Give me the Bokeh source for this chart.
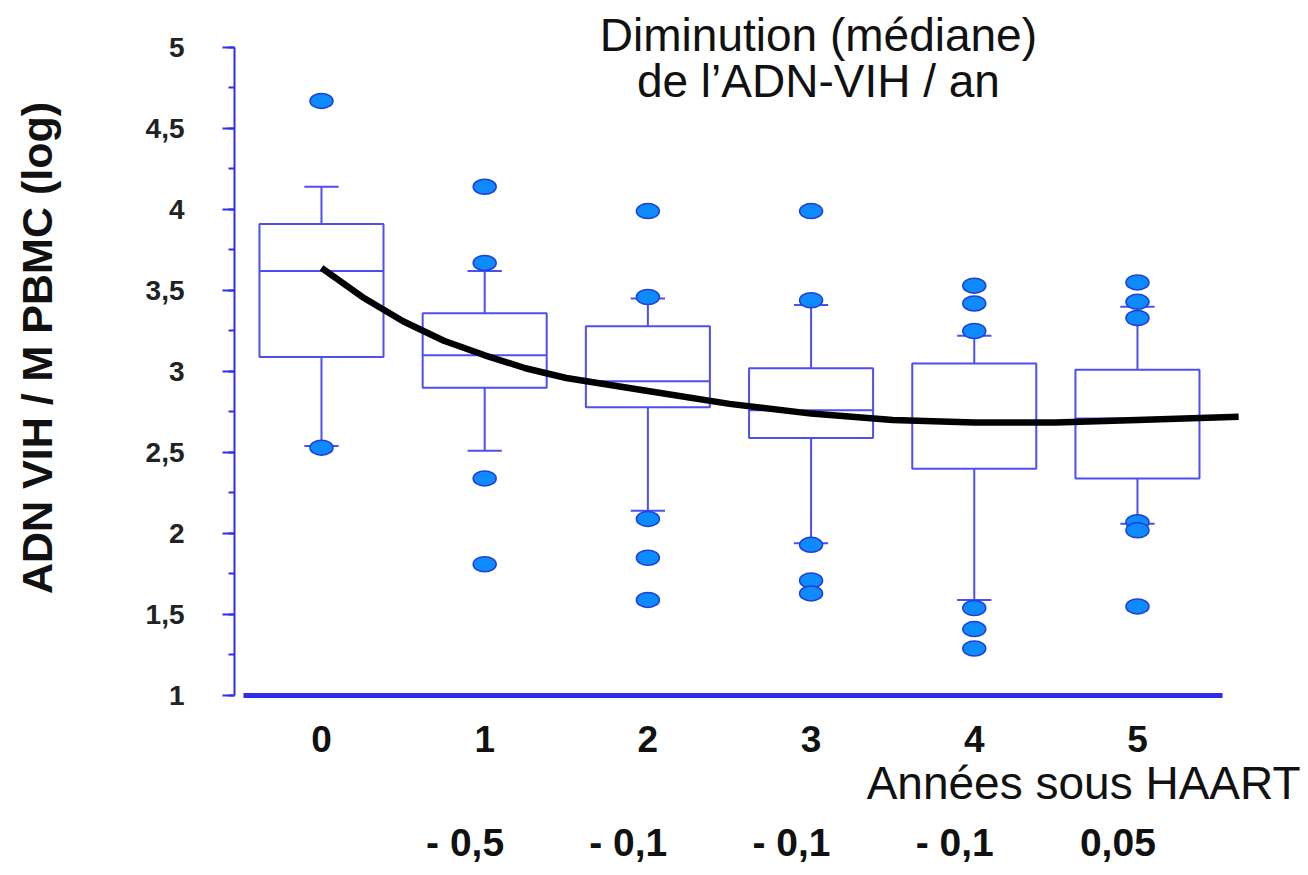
from bokeh.plotting import figure
from bokeh.models import (Range1d, LinearAxis, FixedTicker, SingleIntervalTicker,
                          CustomJSTickFormatter, Label, Title)
from bokeh.embed import file_html
from bokeh.resources import INLINE

# ---------------- data ----------------
years = [0, 1, 2, 3, 4, 5]
q3 = [3.91, 3.36, 3.28, 3.02, 3.05, 3.01]
median = [3.62, 3.10, 2.94, 2.76, 2.69, 2.71]
q1 = [3.09, 2.90, 2.78, 2.59, 2.40, 2.34]
upper_whisker = [4.14, 3.62, 3.45, 3.41, 3.22, 3.40]
lower_whisker = [2.54, 2.51, 2.14, 1.94, 1.59, 2.06]

outlier_year = [0, 0,
                1, 1, 1, 1,
                2, 2, 2, 2, 2,
                3, 3, 3, 3, 3,
                4, 4, 4, 4, 4, 4,
                5, 5, 5, 5, 5, 5]
outlier_value = [4.67, 2.53,
                 4.14, 3.67, 2.34, 1.81,
                 3.99, 3.46, 2.09, 1.85, 1.59,
                 3.99, 3.44, 1.93, 1.71, 1.63,
                 3.53, 3.42, 3.25, 1.54, 1.41, 1.29,
                 3.55, 3.43, 3.33, 2.07, 2.02, 1.55]

curve_x = [0, 0.25, 0.5, 0.75, 1.0, 1.25, 1.5, 1.75, 2.0, 2.5, 3.0, 3.5, 4.0, 4.5, 5.0, 5.62]
curve_y = [3.64, 3.46, 3.31, 3.19, 3.10, 3.02, 2.96, 2.92, 2.88, 2.80, 2.74, 2.70, 2.685, 2.685, 2.70, 2.72]

decrease_year = [1, 2, 3, 4, 5]
decrease_text = ["- 0,5", "- 0,1", "- 0,1", "- 0,1", "0,05"]

title_lines = ["Diminution (médiane)", "de l\u2019ADN-VIH / an"]
x_title = "Années sous HAART"
y_title = "ADN VIH / M PBMC (log)"

# ---------------- style ----------------
FONT = "Liberation Sans"
BOX_BLUE = "#4d4ff2"
AXIS_BLUE = "#2e2ee6"
DOT_FILL = "#0e8cff"
DOT_LINE = "#1f3fd8"
BOX_W = 0.76
CAP_W = 0.21
ROW_SHIFT = 0.12

p = figure(width=1308, height=875, output_backend="svg", toolbar_location=None,
           x_range=Range1d(-0.533, 5.999), y_range=Range1d(1, 5.290),
           x_axis_type=None, y_axis_type=None,
           min_border_left=234, min_border_right=8, min_border_top=0, min_border_bottom=180,
           background_fill_color="white", border_fill_color="white")
p.outline_line_color = None
p.xgrid.grid_line_color = None
p.ygrid.grid_line_color = None

# left axis
yax = LinearAxis(ticker=SingleIntervalTicker(interval=0.5, num_minor_ticks=2),
                 formatter=CustomJSTickFormatter(code="return tick.toString().replace('.', ',');"),
                 bounds=(1, 5))
yax.axis_line_color = AXIS_BLUE
yax.axis_line_width = 2
yax.major_tick_line_color = AXIS_BLUE
yax.major_tick_line_width = 2
yax.major_tick_out = 12
yax.major_tick_in = 0
yax.minor_tick_line_color = AXIS_BLUE
yax.minor_tick_line_width = 2
yax.minor_tick_out = 6
yax.minor_tick_in = 0
yax.major_label_standoff = 38
yax.major_label_text_font = FONT
yax.major_label_text_font_style = "bold"
yax.major_label_text_font_size = "28px"
yax.major_label_text_color = "#222222"
yax.axis_label = y_title
yax.axis_label_text_font = FONT
yax.axis_label_text_font_style = "bold"
yax.axis_label_text_font_size = "43px"
yax.axis_label_text_color = "#111111"
yax.axis_label_standoff = 82
p.add_layout(yax, "left")

# bottom axis: year labels
xax = LinearAxis(ticker=FixedTicker(ticks=years), bounds=(-0.478, 5.52))
xax.axis_line_color = AXIS_BLUE
xax.axis_line_width = 5
xax.major_tick_line_color = None
xax.minor_tick_line_color = None
xax.major_tick_out = 0
xax.major_tick_in = 0
xax.major_label_standoff = 30
xax.major_label_text_font = FONT
xax.major_label_text_font_style = "bold"
xax.major_label_text_font_size = "37px"
xax.major_label_text_color = "#111111"
p.add_layout(xax, "below")

# x-axis title, right aligned under the years
p.add_layout(Title(text=x_title, align="right", standoff=0, offset=0,
                   text_font=FONT, text_font_style="normal", text_font_size="46px",
                   text_color="#111111"), "below")

# second row below: yearly median decrease
row_pos = [y - ROW_SHIFT for y in decrease_year]
dax = LinearAxis(ticker=FixedTicker(ticks=row_pos),
                 formatter=CustomJSTickFormatter(
                     args=dict(labels=decrease_text, pos=row_pos),
                     code="const i = pos.findIndex(v => Math.abs(v - tick) < 1e-6); return i >= 0 ? labels[i] : '';"))
dax.axis_line_color = None
dax.major_tick_line_color = None
dax.minor_tick_line_color = None
dax.major_tick_out = 0
dax.major_tick_in = 0
dax.major_label_standoff = 12
dax.major_label_text_font = FONT
dax.major_label_text_font_style = "bold"
dax.major_label_text_font_size = "39px"
dax.major_label_text_color = "#111111"
p.add_layout(dax, "below")

# boxes
left = [x - BOX_W / 2 for x in years]
right = [x + BOX_W / 2 for x in years]
p.quad(left=left, right=right, top=q3, bottom=q1, fill_color="white",
       line_color=BOX_BLUE, line_width=2)
p.segment(x0=left, x1=right, y0=median, y1=median, line_color=BOX_BLUE, line_width=2)
p.segment(x0=years, x1=years, y0=q3, y1=upper_whisker, line_color=BOX_BLUE, line_width=2)
p.segment(x0=years, x1=years, y0=q1, y1=lower_whisker, line_color=BOX_BLUE, line_width=2)
cl = [x - CAP_W / 2 for x in years]
cr = [x + CAP_W / 2 for x in years]
p.segment(x0=cl, x1=cr, y0=upper_whisker, y1=upper_whisker, line_color=BOX_BLUE, line_width=2)
p.segment(x0=cl, x1=cr, y0=lower_whisker, y1=lower_whisker, line_color=BOX_BLUE, line_width=2)

# outliers
p.ellipse(x=outlier_year, y=outlier_value, width=23, height=15,
          width_units="screen", height_units="screen",
          fill_color=DOT_FILL, line_color=DOT_LINE, line_width=1.5)

# trend curve
p.line(curve_x, curve_y, line_color="black", line_width=6.5, line_join="round", line_cap="butt")

# title (inside the top of the frame)
for i, t in enumerate(title_lines):
    p.add_layout(Label(x=3.045, y=5.074 - i * 0.278, text=t, text_align="center",
                       text_baseline="middle", text_font=FONT, text_font_size="46px",
                       text_color="#111111"))

open("out.html", "w").write(file_html(p, INLINE))
